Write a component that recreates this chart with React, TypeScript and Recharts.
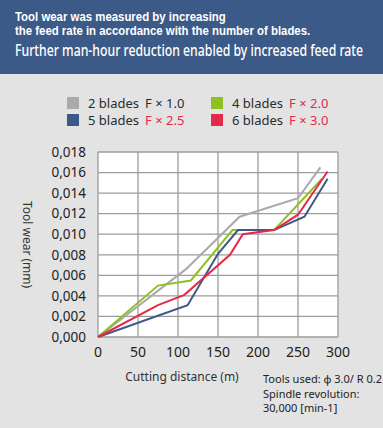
import React from "react";
import { LineChart, Line, XAxis, YAxis, CartesianGrid, Label } from "recharts";

const xTicks = [0, 50, 100, 150, 200, 250, 300];
const yTicks = [0, 0.002, 0.004, 0.006, 0.008, 0.01, 0.012, 0.014, 0.016, 0.018];

// cutting distance (m) / tool wear (mm)
const twoBlades = [
  { d: 0, v: 0 },
  { d: 110, v: 0.0066 },
  { d: 177, v: 0.0117 },
  { d: 250, v: 0.0135 },
  { d: 278, v: 0.0165 },
];
const fourBlades = [
  { d: 0, v: 0 },
  { d: 75, v: 0.005 },
  { d: 116, v: 0.0055 },
  { d: 168, v: 0.0104 },
  { d: 220, v: 0.0104 },
  { d: 280, v: 0.0154 },
];
const fiveBlades = [
  { d: 0, v: 0 },
  { d: 112, v: 0.0031 },
  { d: 150, v: 0.0081 },
  { d: 175, v: 0.0104 },
  { d: 220, v: 0.0104 },
  { d: 258, v: 0.0117 },
  { d: 287, v: 0.0154 },
];
const sixBlades = [
  { d: 0, v: 0 },
  { d: 75, v: 0.0031 },
  { d: 108, v: 0.0041 },
  { d: 165, v: 0.008 },
  { d: 181, v: 0.01 },
  { d: 220, v: 0.0104 },
  { d: 250, v: 0.0119 },
  { d: 287, v: 0.0161 },
];

const legendItems = [
  { name: "2 blades", factor: "F × 1.0", color: "#aaaaaa", factorColor: "#2b2b2b" },
  { name: "4 blades", factor: "F × 2.0", color: "#8dc21f", factorColor: "#e5294a" },
  { name: "5 blades", factor: "F × 2.5", color: "#3b5a88", factorColor: "#e5294a" },
  { name: "6 blades", factor: "F × 3.0", color: "#e5294a", factorColor: "#e5294a" },
];

const font = "'Noto Sans', sans-serif";

const headSmall: React.CSSProperties = {
  position: "absolute",
  left: 15,
  fontFamily: "'Liberation Sans', Arial, sans-serif",
  fontSize: 12,
  lineHeight: "13px",
  fontWeight: 700,
  whiteSpace: "nowrap",
  transform: "scaleX(0.95)",
  transformOrigin: "left top",
};

export default function App() {
  return (
    <div style={{ position: "absolute", left: 0, top: 0, width: 383, height: 428, background: "#e3e3e3", fontFamily: font, overflow: "hidden" }}>
      <div style={{ position: "absolute", left: 0, top: 0, width: 383, height: 74, background: "#3c5a87", color: "#fff" }}>
        <div style={{ ...headSmall, top: 10.5 }}>Tool wear was measured by increasing</div>
        <div style={{ ...headSmall, top: 24.5 }}>the feed rate in accordance with the number of blades.</div>
        <div style={{ position: "absolute", left: 15, top: 41, fontSize: 15.5, lineHeight: "18px", fontWeight: 500, whiteSpace: "nowrap", transform: "scaleX(0.79)", transformOrigin: "left top" }}>
          Further man-hour reduction enabled by increased feed rate
        </div>
      </div>

      {legendItems.map((it, i) => (
        <div
          key={it.name}
          style={{ position: "absolute", left: i % 2 === 0 ? 67 : 211, top: i < 2 ? 95 : 112, height: 16, display: "flex", alignItems: "center", fontSize: 13, color: "#2b2b2b", whiteSpace: "nowrap" }}
        >
          <span style={{ width: 12, height: 12, background: it.color, display: "inline-block", marginRight: 9 }} />
          <span style={{ marginRight: 6 }}>{it.name}</span>
          <span style={{ color: it.factorColor }}>{it.factor}</span>
        </div>
      ))}

      <div style={{ position: "absolute", left: 0, top: 0 }}>
        <LineChart width={383} height={428} margin={{ top: 152, right: 45, bottom: 61, left: 38 }}>
          <CartesianGrid fill="#ffffff" stroke="#9c9c9c" strokeWidth={1.3} horizontalValues={yTicks} verticalValues={xTicks} />
          <XAxis
            type="number"
            dataKey="d"
            domain={[0, 300]}
            ticks={xTicks}
            interval={0}
            axisLine={false}
            tickLine={false}
            height={30}
            tick={{ fill: "#222", fontSize: 14, fontFamily: font }}
            tickMargin={4}
          >
            <Label value="Cutting distance (m)" position="insideBottom" offset={-14} dx={-36} style={{ fill: "#333", fontSize: 12, fontFamily: font }} />
          </XAxis>
          <YAxis
            type="number"
            domain={[0, 0.018]}
            ticks={yTicks}
            interval={0}
            width={60}
            axisLine={false}
            tickLine={false}
            tickMargin={6}
            tick={{ fill: "#222", fontSize: 13.5, fontFamily: font }}
            tickFormatter={(v: number) => v.toFixed(3).replace(".", ",")}
          >
            <Label value="Tool wear (mm)" angle={90} position="insideLeft" offset={-11} style={{ textAnchor: "middle", fill: "#333", fontSize: 12, fontFamily: font }} />
          </YAxis>
          <Line data={twoBlades} dataKey="v" type="linear" stroke="#aaaaaa" strokeWidth={2} dot={false} isAnimationActive={false} />
          <Line data={fourBlades} dataKey="v" type="linear" stroke="#8dc21f" strokeWidth={2} dot={false} isAnimationActive={false} />
          <Line data={fiveBlades} dataKey="v" type="linear" stroke="#3b5a88" strokeWidth={2} dot={false} isAnimationActive={false} />
          <Line data={sixBlades} dataKey="v" type="linear" stroke="#e5294a" strokeWidth={2} dot={false} isAnimationActive={false} />
        </LineChart>
      </div>

      <div style={{ position: "absolute", left: 263, top: 372, fontSize: 11, lineHeight: "14.5px", color: "#222" }}>
        Tools used: φ 3.0/ R 0.2
        <br />
        Spindle revolution:
        <br />
        30,000 [min-1]
      </div>
    </div>
  );
}
